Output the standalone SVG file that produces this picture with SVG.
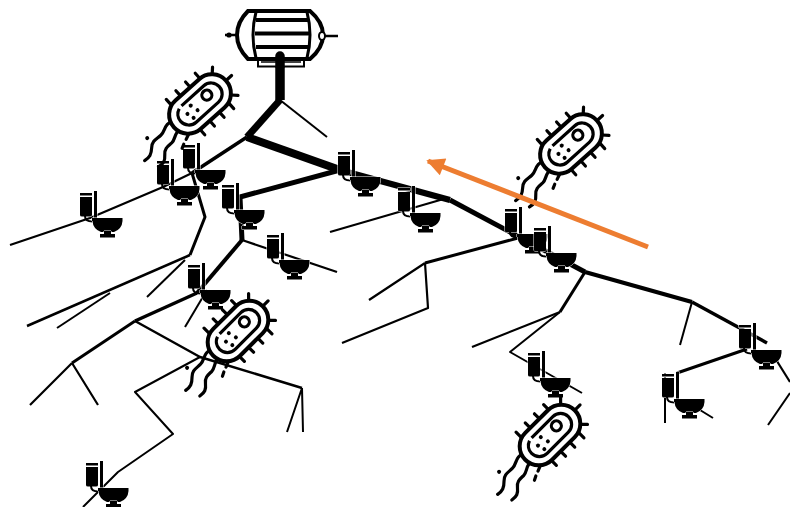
<svg xmlns="http://www.w3.org/2000/svg" xmlns:xlink="http://www.w3.org/1999/xlink" width="790" height="507" viewBox="0 0 790 507">
  <style>
    .pipe { fill: none; stroke: #000; stroke-linejoin: round; stroke-linecap: butt; }
    .w9 { stroke-width: 9.5; }
    .w8 { stroke-width: 8; }
    .w7 { stroke-width: 7; }
    .w6 { stroke-width: 6; }
    .w5 { stroke-width: 5; }
    .w4 { stroke-width: 4; }
    .w35 { stroke-width: 3.5; }
    .w3 { stroke-width: 3; }
    .w25 { stroke-width: 2.5; }
    .w22 { stroke-width: 2.2; }
    .w2 { stroke-width: 2; }
    .toilet { fill: #000; stroke: #fff; stroke-width: 1; paint-order: stroke; }
    .germ-line { fill: none; stroke: #000; stroke-linecap: round; stroke-linejoin: round; }
    .flow { stroke: #ED7D31; stroke-width: 5; fill: none; }
  </style>
  <defs>
    <!-- WC symbol, origin at top-left corner of the cistern lid -->
    <g id="wc" class="toilet">
      <rect x="0" y="0" width="12" height="2.5"/>
      <path d="M0,4 H12 V22 Q12,23.5 10,23.5 H2 Q0,23.5 0,22 Z"/>
      <rect x="14" y="-2" width="3" height="28"/>
      <path d="M5,23 Q5,28.5 12.5,28.5" fill="none" stroke="#000" stroke-width="2"/>
      <path d="M12,25 H42.5 V28 Q42,36 34,39 H21 Q13,36 12.5,28 H12 Z"/>
      <path d="M24,38 H31 V41 H35 V44.5 H20 V41 H24 Z"/>
    </g>
    <!-- bacterium line icon, centred on the cell body, long axis along x -->
    <g id="germ">
      <g class="germ-line" stroke-width="3.2">
        <path d="M-34,-6 c-6,-3 -10,3 -16,3 s-10,-2 -15,3 s-8,6 -14,5"/>
        <path d="M-33,6 c-5,-2 -9,4 -14,4 s-9,-1 -13,4 s-7,6 -13,5"/>
        <path d="M-29,15 l-5,2 M-39,19 l-4,2"/>
        <path d="M-22,-19 v-7 M-9,-19 v-7 M4,-19 v-7 M17,-19 v-7 M-17,19 v7 M-4,19 v7 M9,19 v7 M22,19 v7 M29,-14 l5,-5 M35.5,0 h7 M29,14 l5,5"/>
      </g>
      <circle cx="-62" cy="-10" r="2" fill="#000"/>
      <rect x="-35" y="-19" width="70" height="38" rx="19" fill="#fff" stroke="#000" stroke-width="4"/>
      <rect x="-26" y="-11" width="52" height="22" rx="11" fill="none" stroke="#000" stroke-width="3.2" stroke-dasharray="125 9"/>
      <circle cx="11" cy="-2" r="5" fill="none" stroke="#000" stroke-width="3.2"/>
      <circle cx="-8" cy="-5" r="2" fill="#000"/>
      <circle cx="-16" cy="-1" r="2" fill="#000"/>
      <circle cx="-6" cy="3" r="2" fill="#000"/>
      <circle cx="-14" cy="6" r="2" fill="#000"/>
    </g>
    <marker id="flow-head" viewBox="0 0 10 10" refX="9" refY="5" markerWidth="4" markerHeight="3.6" orient="auto" markerUnits="strokeWidth">
      <path d="M0,0 L10,5 L0,10 Z" fill="#ED7D31"/>
    </marker>
  </defs>

  <rect width="790" height="507" fill="#fff"/>

  <!-- sewer network -->
  <g id="pipes">
    <path class="pipe w9" d="M280,56 V100" stroke-linecap="round"/>
    <path class="pipe w7" d="M280,100 L247,137"/>
    <path class="pipe w8" d="M247,137 L340,170"/>
    <path class="pipe w6" d="M340,170 L450,200"/>
    <path class="pipe w5" d="M450,200 L585,272"/>
    <path class="pipe w4" d="M585,272 L692,302"/>
    <path class="pipe w35" d="M692,302 L767,343"/>
    <path class="pipe w5" d="M340,170 L240,197 L242,240"/>
    <path class="pipe w4" d="M242,240 L197,293"/>
    <path class="pipe w35" d="M247,137 L192,173"/>
    <path class="pipe w22" d="M192,173 L163,187 L90,218 L10,245"/>
    <path class="pipe w3" d="M192,173 L205,217 L190,255"/>
    <path class="pipe w25" d="M190,255 L27,326"/>
    <path class="pipe w2" d="M185,260 L147,297"/>
    <path class="pipe w2" d="M110,293 L57,328"/>
    <path class="pipe w22" d="M242,240 L337,272"/>
    <path class="pipe w35" d="M197,293 L135,321"/>
    <path class="pipe w3" d="M135,321 L72,363"/>
    <path class="pipe w22" d="M72,363 L30,405 M72,363 L98,405"/>
    <path class="pipe w25" d="M135,321 L200,357 L302,388"/>
    <path class="pipe w2" d="M302,388 L287,432 M302,388 L303,432"/>
    <path class="pipe w2" d="M200,357 L135,392 L173,434 L118,472 L83,507"/>
    <path class="pipe w2" d="M207,290 L185,327"/>
    <path class="pipe w2" d="M280,100 L327,137"/>
    <path class="pipe w22" d="M447,198 L330,232"/>
    <path class="pipe w3" d="M518,238 L425,263"/>
    <path class="pipe w22" d="M425,263 L369,300 M425,263 L428,308 L342,343"/>
    <path class="pipe w3" d="M585,272 L560,312"/>
    <path class="pipe w22" d="M560,312 L472,347"/>
    <path class="pipe w2" d="M560,312 L510,352 L582,393"/>
    <path class="pipe w2" d="M692,302 L680,345"/>
    <path class="pipe w22" d="M775,358 L790,382"/>
    <path class="pipe w2" d="M790,393 L768,425"/>
    <path class="pipe w3" d="M747,349 L677,373"/>
    <path class="pipe w2" d="M665,373 V423 M700,410 L713,418"/>
  </g>

  <!-- pump -->
  <g id="pump" fill="none" stroke="#000">
    <path d="M225,35 H240" stroke-width="2.5"/>
    <circle cx="229" cy="35" r="2.6" fill="#000" stroke="none"/>
    <path d="M318,36 H338" stroke-width="2.5"/>
    <rect x="258" y="58" width="46" height="8.5" fill="#fff" stroke-width="2"/>
    <path d="M261,62 H301" stroke-width="1.5"/>
    <path d="M248,11 H310 Q323,22 323,35 Q323,48 310,59 H248 Q237,48 237,35 Q237,22 248,11 Z" fill="#fff" stroke-width="4"/>
    <path d="M256,12 Q250,35 256,58" stroke-width="3"/>
    <path d="M307,12 Q313,35 307,58" stroke-width="3"/>
    <path d="M256,20 H308 M255,33.5 H309 M256,47 H308" stroke-width="4"/>
    <ellipse cx="322" cy="36" rx="3" ry="4" fill="#fff" stroke-width="2"/>
    <path d="M280,56 V66" stroke-width="9.5" stroke-linecap="round"/>
  </g>

  <!-- WCs -->
  <g id="wc-01"><use xlink:href="#wc" x="80" y="193"/></g>
  <g id="wc-02"><use xlink:href="#wc" x="157" y="161"/></g>
  <g id="wc-03"><use xlink:href="#wc" x="183" y="145"/></g>
  <g id="wc-04"><use xlink:href="#wc" x="222" y="185"/></g>
  <g id="wc-05"><use xlink:href="#wc" x="188" y="265"/></g>
  <g id="wc-06"><use xlink:href="#wc" x="267" y="235"/></g>
  <g id="wc-07"><use xlink:href="#wc" x="338" y="152"/></g>
  <g id="wc-08"><use xlink:href="#wc" x="398" y="188"/></g>
  <g id="wc-09"><use xlink:href="#wc" x="505" y="209"/></g>
  <g id="wc-10"><use xlink:href="#wc" x="534" y="228"/></g>
  <g id="wc-11"><use xlink:href="#wc" x="528" y="353"/></g>
  <g id="wc-12"><use xlink:href="#wc" x="739" y="325"/></g>
  <g id="wc-13"><use xlink:href="#wc" x="662" y="374"/></g>
  <g id="wc-14"><use xlink:href="#wc" x="86" y="463"/></g>

  <!-- bacteria -->
  <g id="germ-1"><use xlink:href="#germ" transform="translate(200,104) rotate(-42)"/></g>
  <g id="germ-2"><use xlink:href="#germ" transform="translate(571,144) rotate(-42)"/></g>
  <g id="germ-3"><use xlink:href="#germ" transform="translate(238,331) rotate(-45)"/></g>
  <g id="germ-4"><use xlink:href="#germ" transform="translate(550,435) rotate(-45)"/></g>

  <!-- flow direction -->
  <g id="flow-arrow">
    <path class="flow" d="M648,247 L428,161" marker-end="url(#flow-head)"/>
  </g>
</svg>
